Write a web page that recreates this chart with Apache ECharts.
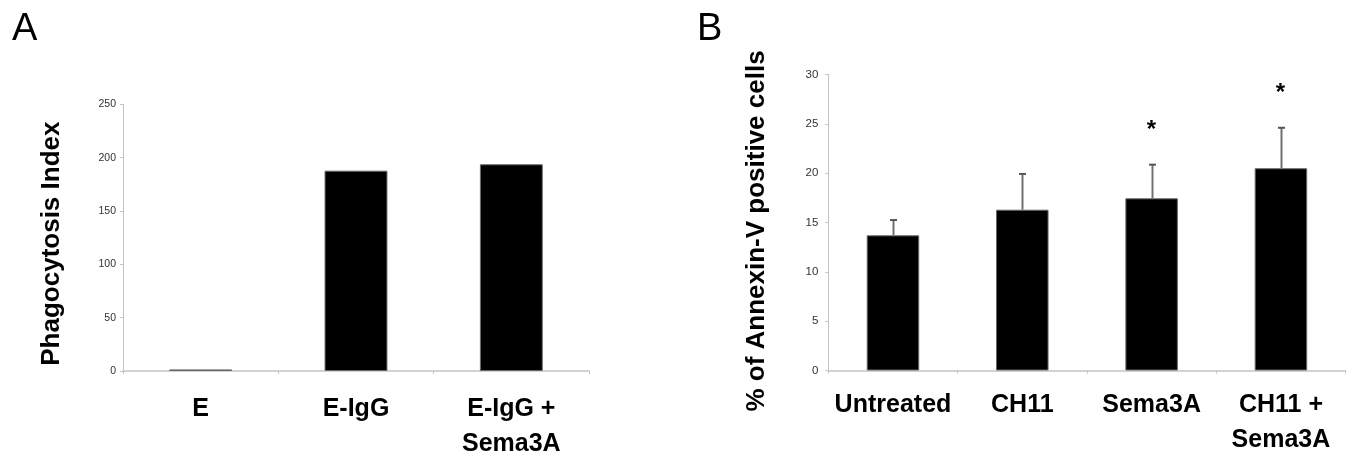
<!DOCTYPE html>
<html>
<head>
<meta charset="utf-8">
<script src="https://cdn.jsdelivr.net/npm/echarts@6/dist/echarts.min.js"></script>
<style>
  html, body { margin: 0; padding: 0; background: #fff; }
  #chart { width: 1357px; height: 455px; }
</style>
</head>
<body>
<div id="chart"></div>
<script>
// ---- Panel A data ----
const categoriesA = ['E', 'E-IgG', 'E-IgG +\nSema3A'];
const valuesA = [1.5, 187.8, 193.8];
const yTicksA = [0, 50, 100, 150, 200, 250];

// ---- Panel B data ----
const categoriesB = ['Untreated', 'CH11', 'Sema3A', 'CH11 +\nSema3A'];
const valuesB = [13.7, 16.3, 17.45, 20.5];
const errorsB = [1.55, 3.62, 3.41, 4.1];
const significantB = [false, false, true, true];
const yTicksB = [0, 5, 10, 15, 20, 25, 30];

const FONT = '"Liberation Sans", Arial, sans-serif';
const AXIS_GRAY = '#c4c4c4';
const TICK_TEXT = '#333';

const chart = echarts.init(document.getElementById('chart'), null, { renderer: 'canvas' });

function yAxisCfg(gridIndex, ticks, name, fontSize, margin, shift) {
  return {
    type: 'value',
    gridIndex: gridIndex,
    min: ticks[0],
    max: ticks[ticks.length - 1],
    interval: ticks[1] - ticks[0],
    name: name,
    nameLocation: 'middle',
    nameGap: 58,
    nameTextStyle: {
      fontFamily: FONT, fontWeight: 'bold', fontSize: 26, color: '#000',
      padding: [0, shift, 0, 0]
    },
    axisLine: { show: true, lineStyle: { color: AXIS_GRAY, width: 1 } },
    axisTick: { show: true, length: 3, lineStyle: { color: AXIS_GRAY } },
    axisLabel: { fontFamily: FONT, fontSize: fontSize, color: TICK_TEXT, margin: margin },
    splitLine: { show: false }
  };
}

function xAxisCfg(gridIndex, cats, margin) {
  return {
    type: 'category',
    gridIndex: gridIndex,
    data: cats,
    axisLine: { show: true, lineStyle: { color: AXIS_GRAY, width: 1.5 } },
    axisTick: { show: true, length: 3, lineStyle: { color: AXIS_GRAY } },
    axisLabel: {
      interval: 0,
      fontFamily: FONT, fontWeight: 'bold', fontSize: 25, color: '#000',
      margin: margin, lineHeight: 35, align: 'center'
    }
  };
}

const errorData = valuesB.map((v, i) => [i, v, v + errorsB[i], significantB[i] ? 1 : 0]);

const option = {
  animation: false,
  backgroundColor: '#fff',
  title: [
    { text: 'A', left: 7, top: 6, textStyle: { fontFamily: FONT, fontWeight: 'normal', fontSize: 38, color: '#000' } },
    { text: 'B', left: 692, top: 6, textStyle: { fontFamily: FONT, fontWeight: 'normal', fontSize: 38, color: '#000' } }
  ],
  grid: [
    { left: 123, top: 104.3, width: 466, height: 266.7, containLabel: false, outerBoundsMode: 'none' },
    { left: 828.3, top: 74.5, width: 517.3, height: 296, containLabel: false, outerBoundsMode: 'none' }
  ],
  xAxis: [xAxisCfg(0, categoriesA, 21), xAxisCfg(1, categoriesB, 17)],
  yAxis: [
    yAxisCfg(0, yTicksA, 'Phagocytosis Index', 10.5, 7, 12),
    yAxisCfg(1, yTicksB, '% of Annexin-V positive cells', 11.5, 10, 17)
  ],
  series: [
    {
      type: 'bar', xAxisIndex: 0, yAxisIndex: 0,
      data: valuesA, barWidth: '40.5%',
      itemStyle: { color: '#000', borderColor: '#6a6a6a', borderWidth: 1 }
    },
    {
      type: 'bar', xAxisIndex: 1, yAxisIndex: 1,
      data: valuesB, barWidth: '40.6%',
      itemStyle: { color: '#000', borderColor: '#6a6a6a', borderWidth: 1 }
    },
    {
      type: 'custom', xAxisIndex: 1, yAxisIndex: 1,
      data: errorData,
      z: 5,
      renderItem: function (params, api) {
        const i = api.value(0);
        const base = api.coord([i, api.value(1)]);
        const top = api.coord([i, api.value(2)]);
        const x = Math.round(base[0]) + 0.5;
        const children = [
          { type: 'line', shape: { x1: x, y1: base[1], x2: x, y2: top[1] },
            style: { stroke: '#707070', lineWidth: 2 } },
          { type: 'line', shape: { x1: x - 3.5, y1: top[1], x2: x + 3.5, y2: top[1] },
            style: { stroke: '#555', lineWidth: 2 } }
        ];
        if (api.value(3) === 1) {
          children.push({
            type: 'text',
            style: {
              text: '*', x: x - 1, y: top[1] - 34,
              align: 'center', verticalAlign: 'middle',
              font: 'bold 24px ' + FONT, fill: '#000'
            }
          });
        }
        return { type: 'group', children: children };
      }
    }
  ]
};
chart.setOption(option);
</script>
</body>
</html>
